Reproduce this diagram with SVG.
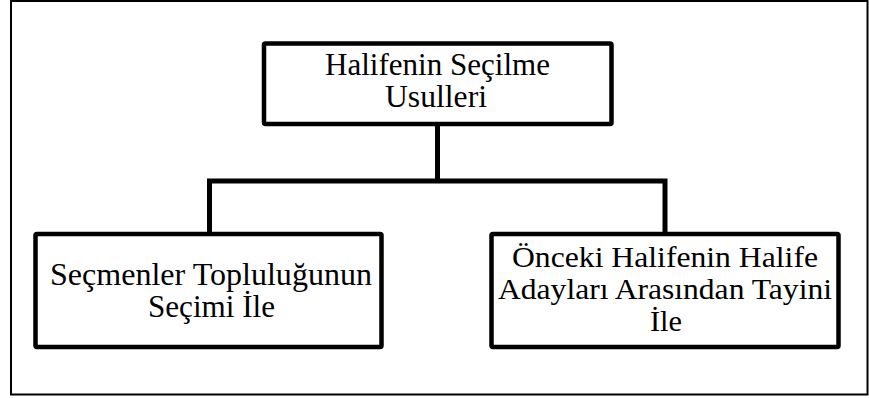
<svg xmlns="http://www.w3.org/2000/svg" width="869" height="398" viewBox="0 0 869 398">
<style>
.box{fill:#fff;stroke:#000;stroke-width:4.5;stroke-linejoin:round}
.con{fill:none;stroke:#000;stroke-width:5}
text{font-family:"Liberation Serif","Times New Roman",Times,serif;font-size:31px;fill:#000;text-anchor:middle}
#right text{font-size:30px}
</style>
<rect x="0" y="0" width="869" height="398" fill="#fff"/>
<rect x="11" y="1" width="856.5" height="393.5" fill="none" stroke="#000" stroke-width="2"/>
<g id="connectors">
<path class="con" d="M437.5 124 V181"/>
<path class="con" d="M209.5 234 V181 H665 V234"/>
</g>
<g id="root">
<rect class="box" x="264" y="43.5" width="347.5" height="80.5" rx="1.5"/>
<text x="437.5" y="75" textLength="225" lengthAdjust="spacingAndGlyphs">Halifenin Seçilme</text>
<text x="436" y="107" textLength="102" lengthAdjust="spacingAndGlyphs">Usulleri</text>
</g>
<g id="left">
<rect class="box" x="35.5" y="234" width="346" height="113" rx="1.5"/>
<text x="211" y="285" textLength="322" lengthAdjust="spacingAndGlyphs">Seçmenler Topluluğunun</text>
<text x="211.5" y="317" textLength="127" lengthAdjust="spacingAndGlyphs">Seçimi İle</text>
</g>
<g id="right">
<rect class="box" x="491.5" y="234" width="347" height="113" rx="1.5"/>
<text x="665" y="267" textLength="306" lengthAdjust="spacingAndGlyphs">Önceki Halifenin Halife</text>
<text x="665" y="299" textLength="334" lengthAdjust="spacingAndGlyphs">Adayları Arasından Tayini</text>
<text x="666" y="331" textLength="32" lengthAdjust="spacingAndGlyphs">İle</text>
</g>
</svg>
